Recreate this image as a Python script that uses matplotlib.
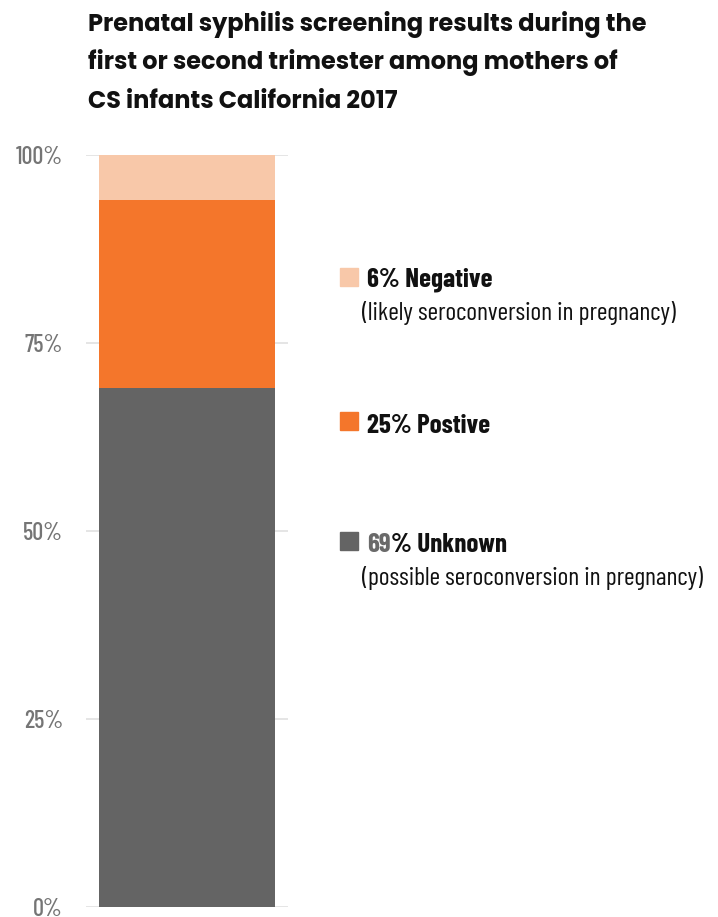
import matplotlib
matplotlib.use("Agg")
import matplotlib.pyplot as plt

# stacked shares, bottom to top
categories = ["Unknown", "Postive", "Negative"]
shares = [69, 25, 6]
colors = ["#646464", "#F4762B", "#F8C8A9"]
notes = ["(possible seroconversion in pregnancy)", "", "(likely seroconversion in pregnancy)"]
ytick_values = [0, 25, 50, 75, 100]
ytick_labels = ["0%", "25%", "50%", "75%", "100%"]

title_lines = ["Prenatal syphilis screening results during the",
               "first or second trimester among mothers of",
               "CS infants California 2017"]

TITLE_FONT = ["Poppins", "DejaVu Sans"]
BODY_FONT = ["Barlow Condensed", "DejaVu Sans"]
plt.rcParams["font.family"] = BODY_FONT

W, H = 718, 917
fig = plt.figure(figsize=(W / 100, H / 100), dpi=100)
ax = fig.add_axes([86 / W, 1 - 907 / H, 202 / W, 752 / H])

bottom = 0
for cat, val, col in zip(categories, shares, colors):
    ax.bar(0, val, width=0.871, bottom=bottom, color=col, zorder=2)
    bottom += val

ax.set_xlim(-0.5, 0.5)
ax.set_ylim(0, 100)
ax.set_yticks(ytick_values)
ax.set_yticklabels(ytick_labels, color="#757575", fontsize=17.5,
                   fontweight="medium")
ax.tick_params(axis="y", length=0, pad=16.5)
ax.set_xticks([])
ax.grid(axis="y", color="#e0e0e0", linewidth=1.2, zorder=0)
for s in ax.spines.values():
    s.set_visible(False)


def px(x, y):
    return x / W, 1 - y / H


# title, one line at a time
for i, line in enumerate(title_lines):
    fig.text(*px(88, 31 + 38.5 * i), line, ha="left", va="baseline",
             fontsize=17.3, fontweight="bold", color="#111111",
             family=TITLE_FONT)

# legend entries: square, bold label, optional note (baselines in px)
legend_rows = {"Negative": (268, 287, 320),
               "Postive": (412, 433, None),
               "Unknown": (532, 552, 585)}
for cat, val, col, note in zip(categories, shares, colors, notes):
    sq_top, base, note_base = legend_rows[cat]
    fig.patches.append(plt.Rectangle(px(340, sq_top + 18), 18 / W, 18 / H,
                                     transform=fig.transFigure, color=col))
    if cat == "Unknown":
        t1 = fig.text(*px(367, base), f"{val}", ha="left", va="baseline",
                      fontsize=19.5, fontweight="bold", color="#6a6a6a")
        ax.annotate(f"% {cat}", xy=(1, 0), xycoords=t1, ha="left",
                    va="bottom", fontsize=19.5, fontweight="bold",
                    color="#111111", annotation_clip=False)
    else:
        fig.text(*px(367, base), f"{val}% {cat}", ha="left", va="baseline",
                 fontsize=19.5, fontweight="bold", color="#111111")
    if note:
        fig.text(*px(362, note_base), note, ha="left", va="baseline",
                 fontsize=18.5, color="#111111")

fig.savefig("out.png", dpi=100)
